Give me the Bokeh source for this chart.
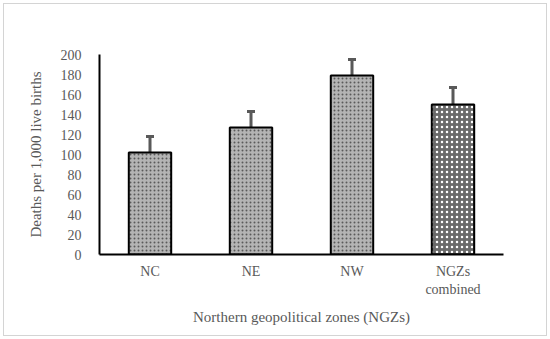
from bokeh.plotting import figure
from bokeh.models import ColumnDataSource, FixedTicker, Whisker, Range1d, CategoricalAxis, FactorRange
from bokeh.embed import file_html
from bokeh.resources import INLINE

zones = ["NC", "NE", "NW", "NGZs combined"]
rates = [102, 127, 179, 150]
err_upper = [118, 143, 195, 167]
err_lower = [86, 111, 163, 133]
y_ticks = [0, 20, 40, 60, 80, 100, 120, 140, 160, 180, 200]

FONT = "Liberation Serif"

# two-line category labels: first line on the main axis, second line on an extra axis
line1 = [z.split(" ", 1)[0] for z in zones]
line2 = [z.split(" ", 1)[1] if " " in z else " " * (i + 1) for i, z in enumerate(zones)]

p = figure(x_range=FactorRange(factors=line1), y_range=Range1d(0, 200),
           frame_width=404, frame_height=200,
           output_backend="svg", toolbar_location=None,
           min_border_left=95, min_border_right=43,
           min_border_top=50, min_border_bottom=81)
p.extra_x_ranges = {"line2": FactorRange(factors=line2)}
p.styles = {"border": "1px solid #d4d4d4", "margin-left": "3px", "margin-top": "3px"}
p.outline_line_color = None
p.xgrid.grid_line_color = None
p.ygrid.grid_line_color = None

src = ColumnDataSource(dict(x=line1[:3], top=rates[:3]))
p.vbar(x="x", top="top", width=0.42, source=src,
       fill_color="#b4b4b4", line_color="black", line_width=2,
       hatch_pattern="dot", hatch_color="#5a5a5a", hatch_scale=4, hatch_weight=1.5)
src2 = ColumnDataSource(dict(x=line1[3:], top=rates[3:]))
p.vbar(x="x", top="top", width=0.42, source=src2,
       fill_color="#6a6a6a", line_color="black", line_width=2,
       hatch_pattern="dot", hatch_color="white", hatch_scale=5, hatch_weight=1.5)

esrc = ColumnDataSource(dict(x=line1, upper=err_upper, lower=err_lower))
w = Whisker(source=esrc, base="x", upper="upper", lower="lower",
            line_color="#595959", line_width=3)
w.upper_head.line_color = "#595959"
w.upper_head.line_width = 3
w.upper_head.size = 8
w.lower_head = None
p.add_layout(w)

ax2 = CategoricalAxis(x_range_name="line2")
ax2.axis_line_color = None
ax2.major_label_standoff = -6
p.add_layout(ax2, "below")

p.yaxis.ticker = FixedTicker(ticks=y_ticks)
for ax in (p.xaxis[0], ax2, p.yaxis[0]):
    ax.major_tick_line_color = None
    ax.minor_tick_line_color = None
    ax.major_label_text_font = FONT
    ax.major_label_text_font_size = "14px"
    ax.major_label_text_color = "#595959"
    ax.axis_label_text_font = FONT
    ax.axis_label_text_font_size = "15px"
    ax.axis_label_text_font_style = "normal"
    ax.axis_label_text_color = "#595959"
for ax in (p.xaxis[0], p.yaxis[0]):
    ax.axis_line_color = "black"
    ax.axis_line_width = 2

p.xaxis[0].major_label_standoff = 3
p.yaxis.major_label_standoff = 12
ax2.axis_label = "Northern geopolitical zones (NGZs)"
ax2.axis_label_standoff = 9
p.yaxis.axis_label = "Deaths per 1,000 live births"
p.yaxis.axis_label_standoff = 14

open("out.html", "w").write(file_html(p, INLINE))
